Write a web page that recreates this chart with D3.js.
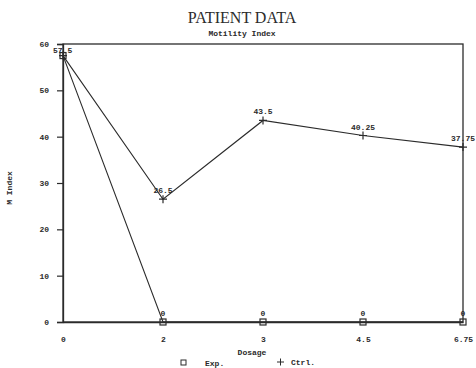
<!DOCTYPE html>
<html><head><meta charset="utf-8">
<script src="https://cdn.jsdelivr.net/npm/d3@7"></script>
<style>body{margin:0;background:#fff}svg{display:block}</style>
</head><body>
<script>
const dosages = ["0", "2", "3", "4.5", "6.75"];
const expValues = [57.5, 0, 0, 0, 0];
const ctrlValues = [57.5, 26.5, 43.5, 40.25, 37.75];
const expLabels = ["57.5", "0", "0", "0", "0"];
const ctrlLabels = ["", "26.5", "43.5", "40.25", "37.75"];
const yTicks = [0, 10, 20, 30, 40, 50, 60];

const W = 476, H = 368;
const m = {left: 63, right: 13, top: 44, bottom: 46};
const ink = "#2b2b2b";
const mono = "'Liberation Mono', 'DejaVu Sans Mono', monospace";

const svg = d3.select("body").append("svg").attr("width", W).attr("height", H);
const x = d3.scalePoint().domain(dosages).range([m.left, W - m.right]);
const y = d3.scaleLinear().domain([0, 60]).range([H - m.bottom, m.top]);

// frame
svg.append("rect").attr("x", m.left).attr("y", m.top)
  .attr("width", W - m.left - m.right).attr("height", H - m.top - m.bottom)
  .attr("fill", "none").attr("stroke", ink).attr("stroke-width", 1.3);

// y axis
const ya = svg.append("g").attr("transform", `translate(${m.left},0)`)
  .call(d3.axisLeft(y).tickValues(yTicks).tickSize(6).tickPadding(8));
ya.select(".domain").attr("stroke", ink).attr("stroke-width", 1.3);
ya.selectAll("line").attr("stroke", ink).attr("stroke-width", 1.2);
ya.selectAll("text").attr("font-family", mono).attr("font-weight", "bold")
  .attr("font-size", 8).attr("fill", ink);

// x axis
const xa = svg.append("g").attr("transform", `translate(0,${H - m.bottom})`)
  .call(d3.axisBottom(x).tickSize(0).tickPadding(14));
xa.select(".domain").attr("stroke", ink).attr("stroke-width", 1.3);
xa.selectAll("text").attr("font-family", mono).attr("font-weight", "bold")
  .attr("font-size", 8).attr("fill", ink);

const line = d3.line().x((d, i) => x(dosages[i])).y(d => y(d));
svg.append("path").datum(expValues).attr("d", line)
  .attr("fill", "none").attr("stroke", ink).attr("stroke-width", 1.1);
svg.append("path").datum(ctrlValues).attr("d", line)
  .attr("fill", "none").attr("stroke", ink).attr("stroke-width", 1.1);

// markers
svg.selectAll(".sq").data(expValues).join("rect")
  .attr("x", (d, i) => x(dosages[i]) - 3).attr("y", d => y(d) - 3)
  .attr("width", 6).attr("height", 6)
  .attr("fill", "none").attr("stroke", ink).attr("stroke-width", 1.2);
svg.selectAll(".pl").data(ctrlValues).join("path")
  .attr("d", (d, i) => { const cx = x(dosages[i]), cy = y(d);
    return `M${cx-4},${cy}H${cx+4}M${cx},${cy-4}V${cy+4}`; })
  .attr("stroke", ink).attr("stroke-width", 1.2);

// value labels
const lab = (vals, labels) => svg.append("g").selectAll("text").data(vals).join("text")
  .attr("x", (d, i) => i === 0 ? x(dosages[i]) - 10 : x(dosages[i]))
  .attr("y", (d, i) => y(d) - (i === 0 ? 3 : 6))
  .attr("text-anchor", (d, i) => i === 0 ? "start" : "middle")
  .attr("font-family", mono).attr("font-weight", "bold").attr("font-size", 8).attr("fill", ink)
  .text((d, i) => labels[i]);
lab(expValues, expLabels);
lab(ctrlValues, ctrlLabels);

// titles
svg.append("text").attr("x", 242).attr("y", 23).attr("text-anchor", "middle")
  .attr("font-family", "'Liberation Serif', serif").attr("font-size", 16).attr("fill", ink)
  .text("PATIENT DATA");
svg.append("text").attr("x", 242).attr("y", 36).attr("text-anchor", "middle")
  .attr("font-family", mono).attr("font-weight", "bold").attr("font-size", 8).attr("fill", ink)
  .text("Motility Index");
svg.append("text").attr("transform", "translate(12,188) rotate(-90)").attr("text-anchor", "middle")
  .attr("font-family", mono).attr("font-weight", "bold").attr("font-size", 8).attr("fill", ink)
  .text("M Index");
svg.append("text").attr("x", 252).attr("y", 355).attr("text-anchor", "middle")
  .attr("font-family", mono).attr("font-weight", "bold").attr("font-size", 8).attr("fill", ink)
  .text("Dosage");

// legend
svg.append("rect").attr("x", 181).attr("y", 360).attr("width", 5).attr("height", 5)
  .attr("fill", "none").attr("stroke", ink).attr("stroke-width", 1);
svg.append("text").attr("x", 205).attr("y", 366)
  .attr("font-family", mono).attr("font-weight", "bold").attr("font-size", 8).attr("fill", ink)
  .text("Exp.");
svg.append("path").attr("d", "M277,362H284M280.5,358.5V365.5").attr("stroke", ink).attr("stroke-width", 1);
svg.append("text").attr("x", 291).attr("y", 365)
  .attr("font-family", mono).attr("font-weight", "bold").attr("font-size", 8).attr("fill", ink)
  .text("Ctrl.");
</script>
</body></html>
